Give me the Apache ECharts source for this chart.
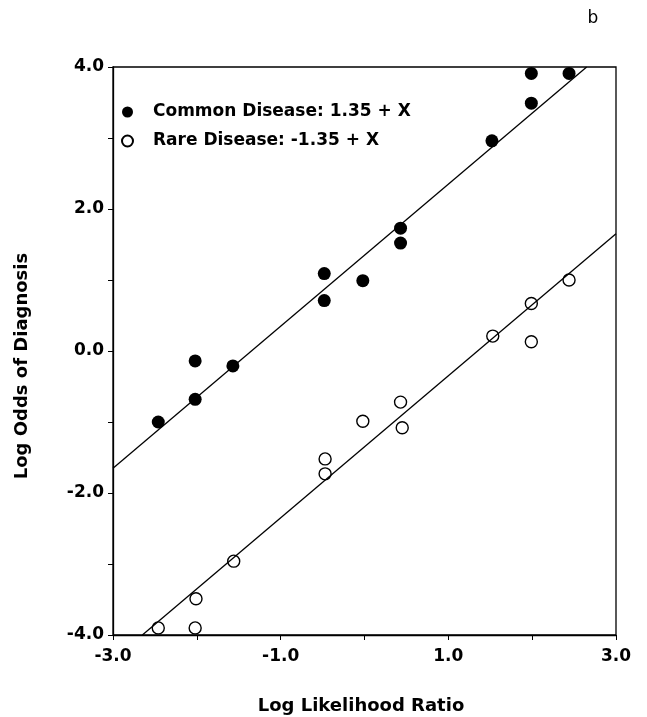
<!DOCTYPE html>
<html><head><meta charset="utf-8">
<script src="https://cdn.jsdelivr.net/npm/echarts@6/dist/echarts.min.js"></script>
<style>html,body{margin:0;padding:0;background:#fff}#c{width:647px;height:717px}</style>
</head><body><div id="c"></div>
<script>
const commonData = [[-2.46,-1.0],[-2.02,-0.14],[-2.02,-0.68],[-1.57,-0.21],[-0.48,1.09],[-0.48,0.71],[-0.02,0.99],[0.43,1.73],[0.43,1.52],[1.52,2.96],[1.99,3.91],[1.99,3.49],[2.44,3.91]];
const rareData = [[-2.46,-3.90],[-2.02,-3.90],[-2.01,-3.49],[-1.56,-2.96],[-0.47,-1.52],[-0.47,-1.73],[-0.02,-0.99],[0.43,-0.72],[0.45,-1.08],[1.53,0.21],[1.99,0.67],[1.99,0.13],[2.44,1.0]];
const commonLine = [[-3.0,-1.65],[2.65,4.0]];
const rareLine = [[-2.65,-4.0],[3.0,1.65]];
const legendNames = ['Common Disease: 1.35 + X','Rare Disease: -1.35 + X'];
const xName = 'Log Likelihood Ratio';
const yName = 'Log Odds of Diagnosis';
const panelLabel = 'b';

const FONT = '"DejaVu Sans", "Liberation Sans", Arial, sans-serif';
const chart = echarts.init(document.getElementById('c'), null, {renderer:'canvas'});
chart.setOption({
  animation:false,
  backgroundColor:'#fff',
  grid:{left:113, top:67, right:31, bottom:82, show:true, borderColor:'#000', borderWidth:1.3, backgroundColor:'transparent'},
  legend:{
    left:116, top:97, orient:'vertical', itemGap:9, itemWidth:11, itemHeight:11,
    textStyle:{fontFamily:FONT, fontWeight:'bold', fontSize:17, lineHeight:20, color:'#000', padding:[0,0,0,15]},
    data:[{name:legendNames[0], icon:'circle'},{name:legendNames[1], icon:'circle'}]
  },
  xAxis:{
    type:'value', min:-3, max:3, interval:1,
    axisLine:{show:true, onZero:false, lineStyle:{color:'#000', width:1.3}},
    axisTick:{show:true, inside:false, length:5, lineStyle:{color:'#000', width:1}},
    splitLine:{show:false},
    axisLabel:{margin:13, color:'#000', fontFamily:FONT, fontWeight:'bold', fontSize:17,
      formatter:v => (Math.abs(Math.round(v))%2===1 ? v.toFixed(1) : '')}
  },
  yAxis:{
    type:'value', min:-4, max:4, interval:1,
    axisLine:{show:true, onZero:false, lineStyle:{color:'#000', width:1.3}},
    axisTick:{show:true, inside:false, length:5, lineStyle:{color:'#000', width:1}},
    splitLine:{show:false},
    axisLabel:{margin:9, color:'#000', fontFamily:FONT, fontWeight:'bold', fontSize:17,
      formatter:v => (Math.round(v)%2===0 ? v.toFixed(1) : '')}
  },
  series:[
    {type:'line', data:commonLine, symbol:'none', lineStyle:{color:'#000', width:1.3}, silent:true},
    {type:'line', data:rareLine, symbol:'none', lineStyle:{color:'#000', width:1.3}, silent:true},
    {name:legendNames[0], type:'scatter', data:commonData, symbol:'circle', symbolSize:13,
      itemStyle:{color:'#000', borderColor:'#000', borderWidth:0, opacity:1}},
    {name:legendNames[1], type:'scatter', data:rareData, symbol:'circle', symbolSize:12,
      itemStyle:{color:'#fff', borderColor:'#000', borderWidth:1.4, opacity:1}}
  ],
  graphic:[
    {type:'text', x:361, y:706, style:{text:xName, fontFamily:FONT, fontWeight:'bold', fontSize:18, fill:'#000', align:'center', verticalAlign:'middle'}},
    {type:'text', x:22, y:366, rotation:Math.PI/2, style:{text:yName, fontFamily:FONT, fontWeight:'bold', fontSize:18, fill:'#000', align:'center', verticalAlign:'middle'}},
    {type:'text', x:593, y:19, style:{text:panelLabel, fontFamily:FONT, fontSize:17, fill:'#000', align:'center', verticalAlign:'middle'}}
  ]
});
</script></body></html>
